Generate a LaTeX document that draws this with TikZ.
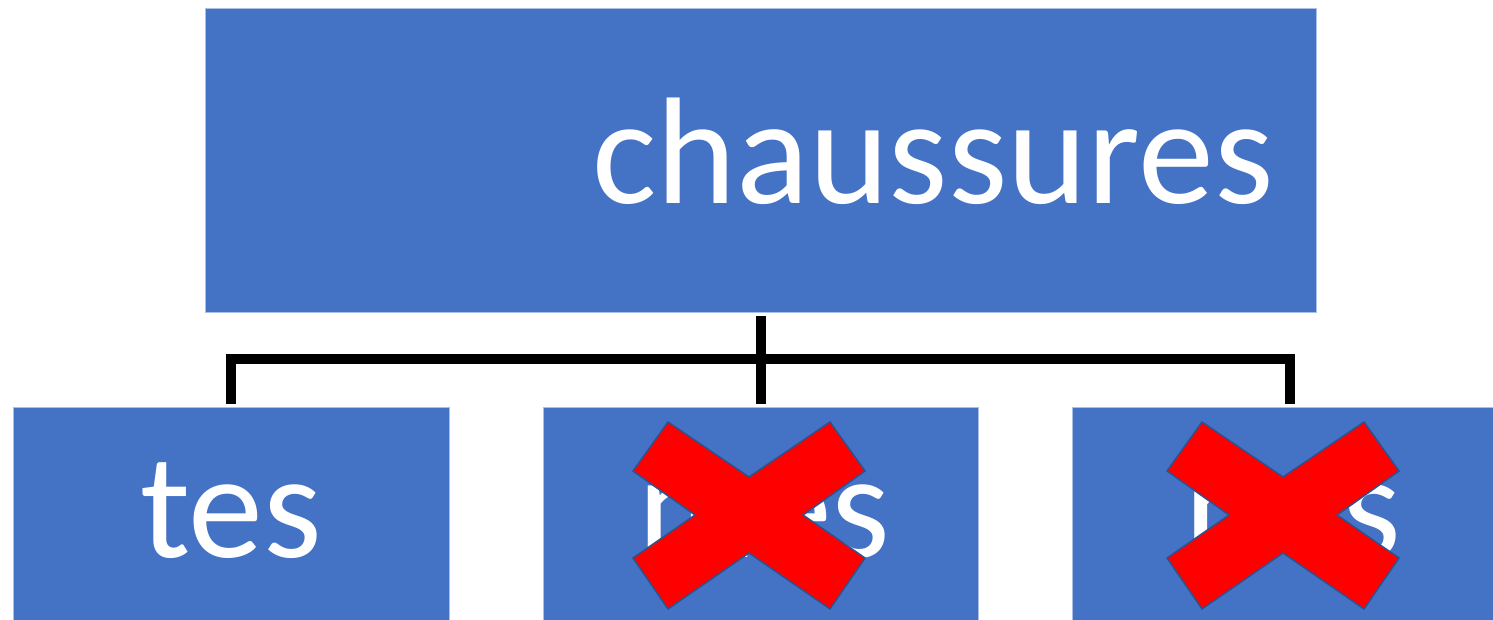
\documentclass[tikz,border=0pt]{standalone}
\usepackage{fontspec}
\setmainfont{Carlito}
\usetikzlibrary{positioning}
\definecolor{boxblue}{HTML}{4472C4}
\definecolor{edgeblue}{HTML}{2F528F}
\definecolor{crossred}{HTML}{FF0000}

\begin{document}
\begin{tikzpicture}[x=1pt, y=-1pt,
    box/.style={rectangle, fill=boxblue, draw=white!55!boxblue, line width=0.8pt, inner sep=0pt, anchor=north west},
    word/.style={text=white, font=\fontsize{150}{180}\selectfont, inner sep=0pt},
    link/.style={draw=black, line width=10pt, line join=miter},
    cross/.style={fill=crossred, draw=edgeblue, line width=1.5pt, line join=miter}]
    \useasboundingbox (0,0) rectangle (1493,620);

    % boxes
    \node[box, minimum width=1111pt, minimum height=304pt] (parent) at (205,8) {};
    \node[box, minimum width=436pt, minimum height=214pt] (child_1) at (13,407) {};
    \node[box, minimum width=435pt, minimum height=214pt] (child_2) at (543,407) {};
    \node[box, minimum width=436pt, minimum height=214pt] (child_3) at (1072,407) {};

    % labels
    \node[word, font=\fontsize{152}{182}\selectfont, anchor=base east] (parent_label) at (1274,204) {chaussures};
    \node[word, anchor=base] (child_1_label) at (231,557) {tes};
    \node[word, anchor=base] (child_2_label) at (764,557) {mes};
    \node[word, anchor=base] (child_3_label) at (1293,557) {nos};

    % connectors
    \coordinate (bus) at (parent.south |- 0,359);
    \draw[link] ([yshift=-3pt]parent.south) -- ([yshift=3pt]child_2.north);
    \draw[link] ([yshift=3pt]child_1.north) |- (bus) -| ([yshift=3pt]child_3.north);

    % crossed out
    \foreach \cx in {749, 1283} {
        \draw[cross, shift={(\cx,515)}] (-116,-44) -- (-81,-93) -- (0,-38) -- (81,-93) -- (116,-44)
            -- (54,0) -- (116,43) -- (81,94) -- (0,38) -- (-81,94) -- (-116,43) -- (-54,0) -- cycle;
    }
\end{tikzpicture}
\end{document}
